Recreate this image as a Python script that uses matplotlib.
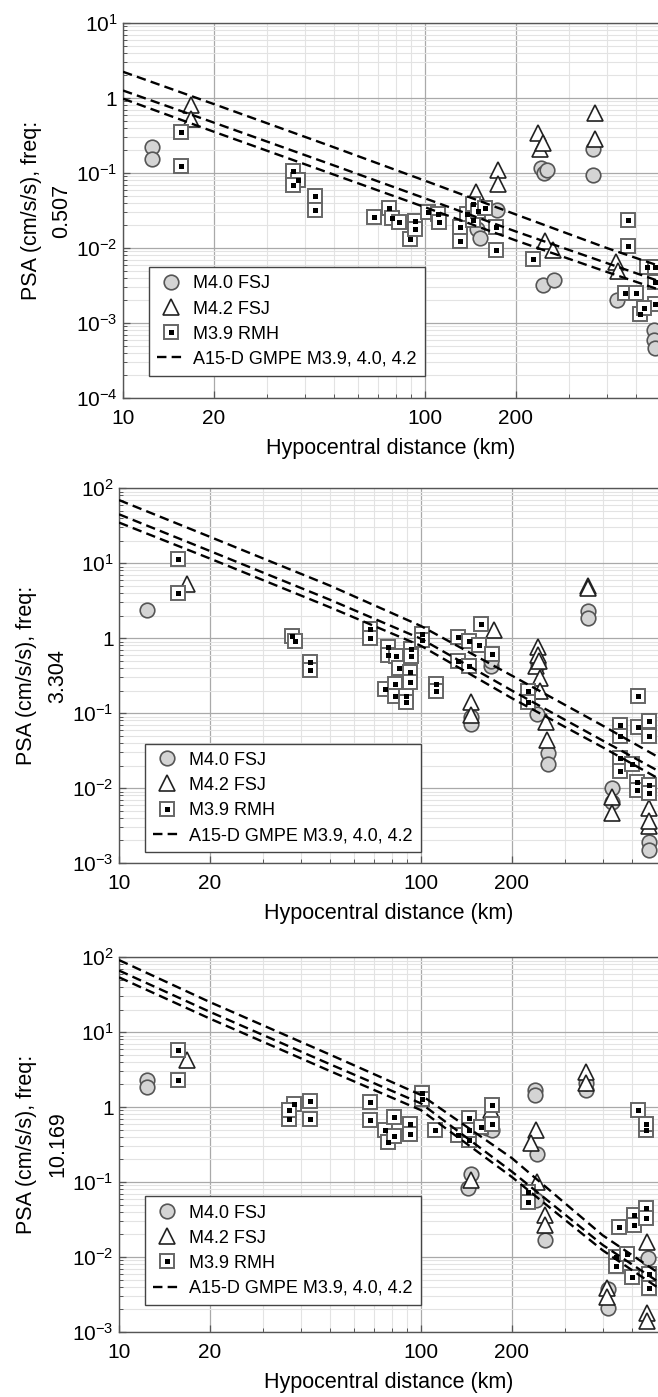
import numpy as np
import matplotlib
matplotlib.use('Agg')
import matplotlib.pyplot as plt
from matplotlib.lines import Line2D
from matplotlib.legend_handler import HandlerTuple
from matplotlib.ticker import FixedLocator, LogLocator, FuncFormatter, NullFormatter

plt.rcParams['font.family'] = ['Liberation Sans', 'DejaVu Sans']
plt.rcParams['mathtext.default'] = 'regular'

# ---- data (distance km, PSA cm/s/s) ----
freqs = ['0.507', '3.304', '10.169']

# panel 1, freq 0.507
p1_m40_r = [12.5, 12.5, 149, 152, 173, 243, 248, 253, 246, 267, 361, 361, 431, 575, 575, 578]
p1_m40_psa = [0.22, 0.156, 0.018, 0.0135, 0.032, 0.115, 0.10, 0.11, 0.0032, 0.0037, 0.21, 0.093, 0.0020, 8e-4, 5.9e-4, 4.6e-4]
p1_m42_r = [16.8, 16.8, 148, 175, 175, 237, 240, 246, 250, 266, 366, 366, 430, 435]
p1_m42_psa = [0.80, 0.53, 0.056, 0.11, 0.072, 0.34, 0.21, 0.25, 0.0125, 0.0093, 0.63, 0.28, 0.0065, 0.005]
p1_m39_r = [15.6, 15.6, 36.6, 38, 36.6, 43.3, 43.3, 67.6, 76, 78, 82, 89, 93, 93, 102, 110, 111, 131, 131,
            138, 144, 144, 150, 158, 172, 172, 227, 470, 470, 459, 501, 542, 577, 577, 577, 515, 530]
p1_m39_psa = [0.35, 0.125, 0.107, 0.081, 0.069, 0.050, 0.032, 0.026, 0.034, 0.025, 0.022, 0.013, 0.023, 0.018,
              0.030, 0.028, 0.022, 0.019, 0.0125, 0.028, 0.039, 0.024, 0.031, 0.034, 0.019, 0.0093, 0.0071,
              0.024, 0.0105, 0.0025, 0.0025, 0.0056, 0.0056, 0.0035, 0.0018, 0.0013, 0.0016]

# panel 2, freq 3.304
p2_m40_r = [12.4, 147, 147, 170, 170, 243, 245, 264, 264, 358, 358, 430, 430, 569, 569]
p2_m40_psa = [2.4, 0.089, 0.072, 0.43, 0.50, 0.098, 0.45, 0.029, 0.021, 2.3, 1.87, 0.010, 0.0066, 0.0019, 0.0015]
p2_m42_r = [16.8, 147, 147, 175, 240, 244, 244, 246, 248, 248, 260, 262, 358, 358, 428, 428, 569, 569, 569]
p2_m42_psa = [5.2, 0.14, 0.095, 1.3, 0.42, 0.75, 0.59, 0.50, 0.29, 0.20, 0.076, 0.044, 4.95, 4.6, 0.0076, 0.0046,
              0.0054, 0.0031, 0.0036]
p2_m39_r = [15.7, 15.7, 37.3, 38.3, 43, 43, 67.6, 67.6, 76, 78, 78, 82, 82, 82.6, 84.7, 89, 89, 92, 92, 93, 93,
            101, 101, 112, 112, 133, 133, 144, 144, 158, 156, 172, 227, 227, 455, 455, 455, 455, 500, 518, 518,
            525, 525, 570, 570, 570, 570]
p2_m39_psa = [11.2, 4.0, 1.06, 0.92, 0.48, 0.38, 1.34, 0.99, 0.21, 0.75, 0.6, 0.245, 0.17, 0.57, 0.40, 0.17, 0.14,
              0.35, 0.26, 0.72, 0.58, 1.12, 0.95, 0.245, 0.195, 1.02, 0.49, 0.92, 0.43, 1.53, 0.8, 0.61, 0.2, 0.14,
              0.069, 0.05, 0.025, 0.017, 0.021, 0.012, 0.0093, 0.17, 0.065, 0.079, 0.05, 0.011, 0.0085]

# panel 3, freq 10.169
p3_m40_r = [12.4, 12.4, 147, 143, 166, 172, 239, 239, 243, 240, 257, 352, 352, 417, 417, 567]
p3_m40_psa = [2.28, 1.86, 0.13, 0.083, 0.52, 0.49, 1.7, 1.45, 0.24, 0.058, 0.017, 1.68, 2.1, 0.0021, 0.0037, 0.0098]
p3_m42_r = [16.8, 147, 171, 240, 231, 243, 257, 257, 352, 352, 414, 414, 563, 563, 563]
p3_m42_psa = [4.2, 0.107, 0.9, 0.49, 0.33, 0.10, 0.036, 0.027, 2.95, 2.1, 0.0039, 0.0029, 0.016, 0.0018, 0.0014]
p3_m39_r = [15.7, 15.7, 36.6, 38, 36.6, 43, 43, 67.6, 67.6, 76, 78, 81.5, 81.5, 92, 92, 101, 101, 111, 133, 144,
            144, 144, 158, 172, 172, 227, 227, 522, 556, 556, 453, 507, 507, 556, 556, 443, 443, 483, 501, 569, 569]
p3_m39_psa = [5.8, 2.33, 0.7, 1.1, 0.9, 1.2, 0.7, 1.17, 0.67, 0.5, 0.34, 0.74, 0.41, 0.6, 0.44, 1.55, 1.3, 0.5,
              0.43, 0.71, 0.36, 0.5, 0.55, 1.06, 0.6, 0.074, 0.055, 0.91, 0.49, 0.6, 0.025, 0.036, 0.027, 0.045,
              0.033, 0.010, 0.0075, 0.011, 0.0055, 0.006, 0.0039]

# A15-D GMPE curves (M4.2, M4.0, M3.9) read at these distances
gmpe_r = [10, 20, 50, 100, 200, 400, 610]
p1_gmpe = [[2.24, 0.83, 0.22, 0.079, 0.028, 0.010, 0.0056],
           [1.26, 0.47, 0.126, 0.046, 0.0166, 0.0063, 0.0035],
           [0.98, 0.355, 0.095, 0.035, 0.0126, 0.0048, 0.0027]]
p2_gmpe = [[69.2, 22.4, 5.0, 1.45, 0.316, 0.068, 0.026],
           [44.7, 14.5, 3.24, 0.98, 0.20, 0.043, 0.017],
           [34.7, 11.5, 2.57, 0.79, 0.158, 0.035, 0.0135]]
p3_gmpe = [[91.2, 25.1, 5.0, 1.45, 0.209, 0.0195, 0.0062],
           [66.1, 18.6, 3.72, 1.12, 0.138, 0.0145, 0.0047],
           [53.7, 15.1, 3.02, 0.91, 0.117, 0.0123, 0.0039]]

panels = [
    (p1_m40_r, p1_m40_psa, p1_m42_r, p1_m42_psa, p1_m39_r, p1_m39_psa, p1_gmpe),
    (p2_m40_r, p2_m40_psa, p2_m42_r, p2_m42_psa, p2_m39_r, p2_m39_psa, p2_gmpe),
    (p3_m40_r, p3_m40_psa, p3_m42_r, p3_m42_psa, p3_m39_r, p3_m39_psa, p3_gmpe),
]

# layout (figure fractions)
axes_rects = [[0.187, 0.7151, 0.813, 0.2684],
              [0.181, 0.3822, 0.819, 0.2684],
              [0.181, 0.0465, 0.819, 0.2684]]
ylims = [(1e-4, 10), (1e-3, 100), (1e-3, 100)]
xmax = [591, 610, 610]
leg_anchor = [(0.049, 0.059), (0.048, 0.029), (0.048, 0.072)]

edge = '#555555'
dash = (0, (4, 2.2))


def ytick_fmt(v, pos):
    e = int(round(np.log10(v)))
    if e == 0:
        return '1'
    return r'$10^{%d}$' % e


fig = plt.figure(figsize=(6.58, 13.97), dpi=100)

for i, (r40, a40, r42, a42, r39, a39, gm) in enumerate(panels):
    ax = fig.add_axes(axes_rects[i])
    ax.set_xscale('log')
    ax.set_yscale('log')
    ax.set_xlim(10, xmax[i])
    ax.set_ylim(*ylims[i])

    ax.plot(r40, a40, 'o', ms=10.5, mfc='#d4d4d4', mec=edge, mew=1.2, zorder=3)
    ax.plot(r42, a42, '^', ms=11, mfc='white', mec='#222222', mew=1.2, zorder=4)
    ax.plot(r39, a39, 's', ms=9.5, mfc='white', mec='#666666', mew=1.4, zorder=5)
    ax.plot(r39, a39, 's', ms=3.6, mfc='black', mec='black', mew=0, zorder=6)
    for curve in gm:
        ax.plot(gmpe_r, curve, color='black', lw=1.7, ls=dash, zorder=7)

    ax.xaxis.set_major_locator(FixedLocator([10, 20, 100, 200]))
    ax.xaxis.set_minor_locator(FixedLocator([30, 40, 50, 60, 70, 80, 90, 300, 400, 500]))
    ax.xaxis.set_major_formatter(FuncFormatter(lambda v, p: '%d' % v))
    ax.xaxis.set_minor_formatter(NullFormatter())
    ax.yaxis.set_major_locator(LogLocator(base=10, numticks=12))
    ax.yaxis.set_minor_locator(LogLocator(base=10, subs=np.arange(2, 10), numticks=12))
    ax.yaxis.set_major_formatter(FuncFormatter(ytick_fmt))
    ax.yaxis.set_minor_formatter(NullFormatter())

    ax.grid(which='major', color='#a9a9a9', lw=0.9)
    ax.grid(which='minor', color='#e3e3e3', lw=0.8)
    ax.set_axisbelow(True)
    ax.tick_params(which='both', direction='in', colors=edge, labelcolor='black', labelsize=15)
    ax.tick_params(which='major', length=5, width=0.9, pad=4)
    ax.tick_params(axis='x', which='major', pad=8)
    ax.tick_params(which='minor', length=3, width=0.7)
    for s in ['left', 'bottom', 'top']:
        ax.spines[s].set_color(edge)
        ax.spines[s].set_linewidth(1.0)
    ax.spines['right'].set_visible(False)

    ax.set_xlabel('Hypocentral distance (km)', fontsize=15.5, labelpad=7)
    ax.set_ylabel('PSA (cm/s/s), freq:\n' + freqs[i], fontsize=15.5, linespacing=1.6)
    ax.yaxis.set_label_coords(-0.095, 0.5)

    h40 = Line2D([], [], marker='o', ls='none', ms=10.5, mfc='#d4d4d4', mec=edge, mew=1.2)
    h42 = Line2D([], [], marker='^', ls='none', ms=11, mfc='white', mec='#222222', mew=1.2)
    h39a = Line2D([], [], marker='s', ls='none', ms=9.5, mfc='white', mec='#666666', mew=1.4)
    h39b = Line2D([], [], marker='s', ls='none', ms=3.6, mfc='black', mec='black', mew=0)
    hg = Line2D([], [], color='black', lw=1.7, ls=dash)
    leg = ax.legend([h40, h42, (h39a, h39b), hg],
                    ['M4.0 FSJ', 'M4.2 FSJ', 'M3.9 RMH', 'A15-D GMPE M3.9, 4.0, 4.2'],
                    handler_map={tuple: HandlerTuple(ndivide=1, pad=0)},
                    loc='lower left', bbox_to_anchor=leg_anchor[i], borderaxespad=0,
                    fontsize=13, frameon=True, fancybox=False, framealpha=1,
                    edgecolor='#444444', handlelength=1.5, handletextpad=0.5,
                    labelspacing=0.45, borderpad=0.45)
    leg.get_frame().set_linewidth(1.0)
    leg.set_zorder(10)

fig.savefig('out.png', dpi=100)
